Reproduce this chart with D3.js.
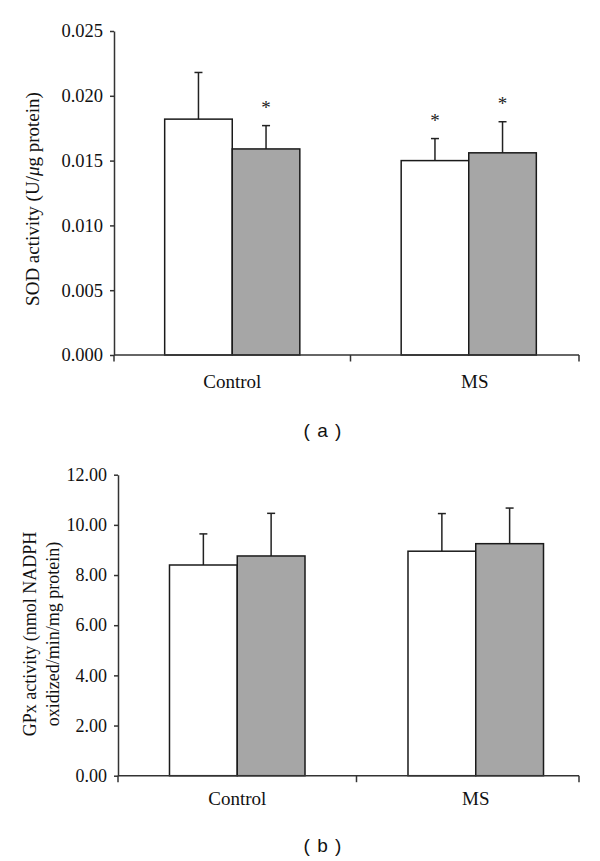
<!DOCTYPE html>
<html><head><meta charset="utf-8">
<script src="https://cdn.jsdelivr.net/npm/d3@7"></script>
<style>body{margin:0;background:#fff}</style>
</head><body><svg id="c" width="600" height="861"></svg>
<script>
const groups = ["Control", "MS"];
const series = ["s1", "s2"];
const fills = ["#ffffff", "#a6a6a6"];

const sodValues = [[0.0182, 0.0159], [0.0150, 0.0156]];
const sodErrors = [[0.0036, 0.0018], [0.0017, 0.0024]];
const sodSig = [[false, true], [true, true]];
const sodTicks = [0, 0.005, 0.010, 0.015, 0.020, 0.025];

const gpxValues = [[8.40, 8.76], [8.95, 9.25]];
const gpxErrors = [[1.24, 1.70], [1.50, 1.42]];
const gpxSig = [[false, false], [false, false]];
const gpxTicks = [0, 2, 4, 6, 8, 10, 12];

const svg = d3.select("#c");
const SERIF = "'Liberation Serif', 'Times New Roman', serif";
const AX = "#333";
const TXT = "#111";

function panel(cfg) {
  const g = svg.append("g");
  const y = d3.scaleLinear().domain(cfg.domain).range([cfg.bottom, cfg.top]);
  const x0 = d3.scaleBand().domain(groups).range([cfg.left, cfg.left + 2 * cfg.step]).padding(0);
  const x1 = d3.scaleBand().domain(series).range([0, x0.bandwidth()]).paddingInner(0).paddingOuter(cfg.pad);

  const data = [];
  groups.forEach((gr, i) => series.forEach((s, j) => data.push({
    gr, s, j, v: cfg.values[i][j], e: cfg.errors[i][j], sig: cfg.sig[i][j]
  })));

  // error bars
  const eb = g.append("g").attr("stroke", "#222").attr("stroke-width", 1.5);
  data.forEach(d => {
    const cx = x0(d.gr) + x1(d.s) + x1.bandwidth() / 2;
    eb.append("line").attr("x1", cx).attr("x2", cx).attr("y1", y(d.v)).attr("y2", y(d.v + d.e));
    eb.append("line").attr("x1", cx - 4).attr("x2", cx + 4).attr("y1", y(d.v + d.e)).attr("y2", y(d.v + d.e));
  });

  // bars
  g.append("g").selectAll("rect").data(data).join("rect")
    .attr("x", d => x0(d.gr) + x1(d.s))
    .attr("y", d => y(d.v))
    .attr("width", x1.bandwidth())
    .attr("height", d => y(0) - y(d.v))
    .attr("fill", d => fills[d.j])
    .attr("stroke", "#1a1a1a").attr("stroke-width", 1.5);

  // significance asterisks
  g.append("g").selectAll("text").data(data.filter(d => d.sig)).join("text")
    .attr("x", d => x0(d.gr) + x1(d.s) + x1.bandwidth() / 2)
    .attr("y", d => y(d.v + d.e) - 12)
    .attr("text-anchor", "middle")
    .attr("font-family", SERIF).attr("font-size", 19).attr("fill", "#222")
    .text("*");

  // y axis
  const ya = g.append("g").attr("transform", `translate(${cfg.left},0)`)
    .call(d3.axisLeft(y).tickValues(cfg.ticks).tickFormat(cfg.fmt).tickSize(4).tickSizeOuter(0).tickPadding(7));
  ya.select(".domain").attr("stroke", AX).attr("stroke-width", 1.5);
  ya.selectAll(".tick line").attr("stroke", AX).attr("stroke-width", 1.5);
  ya.selectAll(".tick text").attr("font-family", SERIF).attr("font-size", cfg.tickFont).attr("fill", TXT);

  // x axis
  const xa = g.append("g").attr("stroke", AX).attr("stroke-width", 1.5);
  xa.append("line").attr("x1", cfg.left).attr("x2", cfg.right).attr("y1", y(0)).attr("y2", y(0));
  const tickXs = groups.map(gr => x0(gr)).concat([cfg.right]);
  tickXs.forEach(tx => xa.append("line").attr("x1", tx).attr("x2", tx).attr("y1", y(0)).attr("y2", y(0) + 6.5));

  g.append("g").selectAll("text").data(groups).join("text")
    .attr("x", d => x0(d) + x0.bandwidth() / 2 + (d === "MS" ? cfg.msShift : 0))
    .attr("y", y(0) + cfg.labelDy)
    .attr("text-anchor", "middle")
    .attr("font-family", SERIF).attr("font-size", 19).attr("fill", TXT)
    .text(d => d);

  // y title
  const yt = g.append("g").attr("transform", `translate(0,${cfg.titleY}) rotate(-90)`);
  cfg.titleLines.forEach((ln, k) => {
    const t = yt.append("text").attr("x", 0).attr("y", cfg.titleXs[k])
      .attr("dy", "0.35em").attr("text-anchor", "middle")
      .attr("font-family", SERIF).attr("font-size", cfg.titleFont).attr("fill", TXT);
    ln.forEach(part => t.append("tspan").attr("font-style", part.it ? "italic" : null).text(part.t));
  });

  // panel label
  svg.append("text").attr("x", 323).attr("y", cfg.panelY).attr("dy", "0.35em")
    .attr("text-anchor", "middle").attr("font-family", "'Liberation Sans', Arial, sans-serif")
    .attr("font-size", 19).attr("letter-spacing", 1).attr("fill", "#111").text(cfg.panel);
}

panel({
  values: sodValues, errors: sodErrors, sig: sodSig, ticks: sodTicks,
  domain: [0, 0.025], top: 31, bottom: 355, left: 114, right: 579, step: 236.5, pad: 0.75,
  fmt: d3.format(".3f"), tickFont: 18.5, labelDy: 33, msShift: 6,
  titleLines: [[{t: "SOD activity (U/"}, {t: "μ", it: true}, {t: "g protein)"}]],
  titleXs: [32], titleY: 199, titleFont: 19,
  panel: "( a )", panelY: 430
});

panel({
  values: gpxValues, errors: gpxErrors, sig: gpxSig, ticks: gpxTicks,
  domain: [0, 12], top: 474.7, bottom: 775.7, left: 118, right: 579, step: 238.5, pad: 0.76,
  fmt: d3.format(".2f"), tickFont: 18, labelDy: 29, msShift: 0,
  titleLines: [[{t: "GPx activity (nmol NADPH"}], [{t: "oxidized/min/mg protein)"}]],
  titleXs: [30, 53], titleY: 634, titleFont: 18,
  panel: "( b )", panelY: 845
});
</script>
</body></html>
